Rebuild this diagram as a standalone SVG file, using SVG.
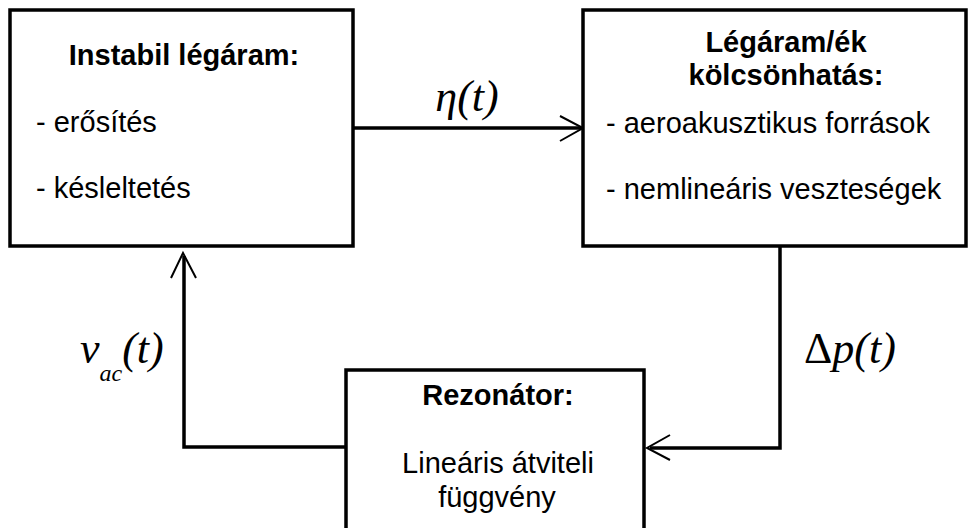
<svg xmlns="http://www.w3.org/2000/svg" width="969" height="528" viewBox="0 0 969 528">
<defs>
<style>
.box{fill:#fff;stroke:#000;stroke-width:3.5}
.t{font-family:"Liberation Sans",Arial,sans-serif;font-size:29px;fill:#000}
.b{font-weight:bold}
.m{font-family:"Liberation Serif","Times New Roman",serif;font-style:italic;font-size:44px;fill:#000}
.line{fill:none;stroke:#000;stroke-width:3.5}
.head{fill:none;stroke:#000;stroke-width:2}
</style>
</defs>
<rect width="969" height="528" fill="#fff"/>
<g id="connectors">
<line class="line" x1="353" y1="128" x2="581" y2="128"/>
<polyline class="head" points="560,116 583,128 560,141"/>
<polyline class="line" points="780,246 780,448 650,448"/>
<polyline class="head" points="670,435 647,448 670,460"/>
<polyline class="line" points="346,447 184,447 184,256"/>
<polyline class="head" points="171,278 183,253 196,278"/>
<text class="m" x="467" y="111" text-anchor="middle">η(t)</text>
<text class="m" x="804" y="363"><tspan font-style="normal">Δ</tspan>p(t)</text>
<text class="m" x="80" y="363">ν<tspan font-size="24" dy="18">ac</tspan><tspan dy="-18">(t)</tspan></text>
</g>
<g id="node-instabil">
<rect class="box" x="10" y="10" width="343" height="236"/>
<text class="t b" x="184" y="65" text-anchor="middle">Instabil légáram:</text>
<text class="t" x="36" y="132">- erősítés</text>
<text class="t" x="36" y="198">- késleltetés</text>
</g>
<g id="node-kolcsonhatas">
<rect class="box" x="583" y="10" width="383" height="236"/>
<text class="t b" x="786" y="52" text-anchor="middle">Légáram/ék</text>
<text class="t b" x="786" y="85" text-anchor="middle">kölcsönhatás:</text>
<text class="t" x="606" y="133">- aeroakusztikus források</text>
<text class="t" x="606" y="199">- nemlineáris veszteségek</text>
</g>
<g id="node-rezonator">
<rect class="box" x="346" y="370" width="298" height="180"/>
<text class="t b" x="498" y="405" text-anchor="middle">Rezonátor:</text>
<text class="t" x="498" y="473" text-anchor="middle">Lineáris átviteli</text>
<text class="t" x="497" y="507" text-anchor="middle">függvény</text>
</g>
</svg>
